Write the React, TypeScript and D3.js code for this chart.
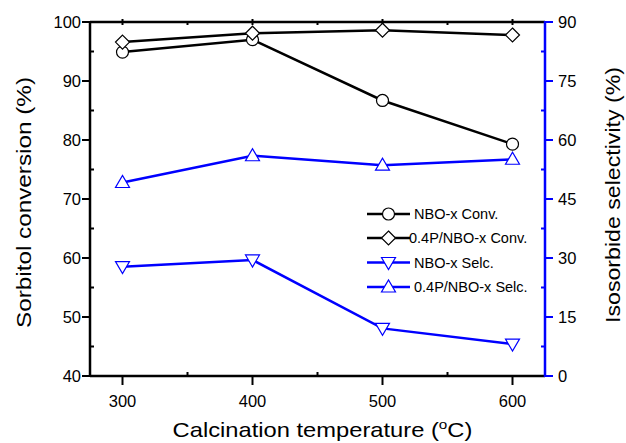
import React, { ReactElement, useEffect, useRef } from "react";
import * as d3 from "d3";

const temps = [300, 400, 500, 600];
const nboConv = [94.9, 97.0, 86.7, 79.3];
const pConv = [96.6, 98.1, 98.6, 97.8];
const nboSelc = [27.8, 29.5, 12.1, 8.1];
const pSelc = [49.2, 56.0, 53.6, 55.1];

const leftTicks = [40, 50, 60, 70, 80, 90, 100];
const rightTicks = [0, 15, 30, 45, 60, 75, 90];

const BLUE = "#0000ff";
const FONT = "Arial, 'Liberation Sans', sans-serif";

function App(): ReactElement {
  const ref = useRef<SVGSVGElement>(null);
  useEffect(() => {
    drawChart();
  });
  const drawChart = () => {
    const left = 90, right = 545, top = 22, bottom = 376;
    const svg = d3.select(ref.current);
    svg.selectAll("*").remove();

    const x = d3.scaleLinear().domain([275, 625]).range([left, right]);
    const yL = d3.scaleLinear().domain([40, 100]).range([bottom, top]);
    const yR = d3.scaleLinear().domain([0, 90]).range([bottom, top]);

    // frame: top + bottom + left black, right blue
    const axisW = 2.5;
    svg.append("line").attr("x1", left).attr("x2", right).attr("y1", top).attr("y2", top)
      .attr("stroke", "#000").attr("stroke-width", axisW);
    svg.append("line").attr("x1", left).attr("x2", right).attr("y1", bottom).attr("y2", bottom)
      .attr("stroke", "#000").attr("stroke-width", axisW);
    svg.append("line").attr("x1", left).attr("x2", left).attr("y1", top - 1).attr("y2", bottom + 1)
      .attr("stroke", "#000").attr("stroke-width", axisW);
    svg.append("line").attr("x1", right).attr("x2", right).attr("y1", top - 1).attr("y2", bottom + 1)
      .attr("stroke", BLUE).attr("stroke-width", axisW);

    // left ticks
    const lt = svg.append("g");
    leftTicks.forEach((v) => {
      lt.append("line").attr("x1", left - 8).attr("x2", left).attr("y1", yL(v)).attr("y2", yL(v))
        .attr("stroke", "#000").attr("stroke-width", 2);
      lt.append("text").attr("x", left - 9).attr("y", yL(v)).attr("dy", "0.35em")
        .attr("text-anchor", "end").attr("font-size", 16.5).attr("font-family", FONT).text(v);
    });
    d3.range(45, 100, 10).forEach((v) => {
      lt.append("line").attr("x1", left).attr("x2", left + 4).attr("y1", yL(v)).attr("y2", yL(v))
        .attr("stroke", "#000").attr("stroke-width", 2);
    });

    // right ticks
    const rt = svg.append("g");
    rightTicks.forEach((v) => {
      rt.append("line").attr("x1", right).attr("x2", right + 8).attr("y1", yR(v)).attr("y2", yR(v))
        .attr("stroke", BLUE).attr("stroke-width", 2);
      rt.append("text").attr("x", right + 13).attr("y", yR(v)).attr("dy", "0.35em")
        .attr("text-anchor", "start").attr("font-size", 16.5).attr("font-family", FONT).text(v);
    });
    d3.range(7.5, 90, 15).forEach((v) => {
      rt.append("line").attr("x1", right - 4).attr("x2", right).attr("y1", yR(v)).attr("y2", yR(v))
        .attr("stroke", BLUE).attr("stroke-width", 2);
    });

    // bottom/top ticks
    const bt = svg.append("g");
    temps.forEach((v) => {
      bt.append("line").attr("x1", x(v)).attr("x2", x(v)).attr("y1", bottom).attr("y2", bottom + 9)
        .attr("stroke", "#000").attr("stroke-width", 2);
      bt.append("line").attr("x1", x(v)).attr("x2", x(v)).attr("y1", top - 3).attr("y2", top + 3)
        .attr("stroke", "#000").attr("stroke-width", 2);
      bt.append("text").attr("x", x(v)).attr("y", bottom + 31).attr("text-anchor", "middle")
        .attr("font-size", 16.5).attr("font-family", FONT).text(v);
    });
    [350, 450, 550].forEach((v) => {
      bt.append("line").attr("x1", x(v)).attr("x2", x(v)).attr("y1", bottom - 4).attr("y2", bottom)
        .attr("stroke", "#000").attr("stroke-width", 2);
      bt.append("line").attr("x1", x(v)).attr("x2", x(v)).attr("y1", top).attr("y2", top + 3)
        .attr("stroke", "#000").attr("stroke-width", 2);
    });

    // axis titles
    svg.append("text").attr("transform", "translate(31,202.5) rotate(-90)")
      .attr("text-anchor", "middle").attr("font-size", 21).attr("font-family", FONT)
      .attr("textLength", 251).attr("lengthAdjust", "spacingAndGlyphs")
      .text("Sorbitol conversion (%)");
    svg.append("text").attr("transform", "translate(620,195) rotate(-90)")
      .attr("text-anchor", "middle").attr("font-size", 21).attr("font-family", FONT)
      .attr("textLength", 256).attr("lengthAdjust", "spacingAndGlyphs")
      .text("Isosorbide selectivity (%)");
    const xt = svg.append("text").attr("transform", "translate(322.5,437) scale(1.13,1)")
      .attr("text-anchor", "middle").attr("font-size", 21).attr("font-family", FONT);
    xt.append("tspan").text("Calcination temperature (");
    xt.append("tspan").attr("dy", -8).attr("font-size", 13.5).text("o");
    xt.append("tspan").attr("dy", 8).text("C)");

    // markers
    const drawMarker = (g: any, shape: string, cx: number, cy: number, color: string) => {
      const s = 6;
      if (shape === "circle") {
        g.append("circle").attr("cx", cx).attr("cy", cy).attr("r", s)
          .attr("fill", "#fff").attr("stroke", color).attr("stroke-width", 1.2);
      } else {
        let pts: number[][] = [];
        if (shape === "diamond") pts = [[0, -s - 1], [s + 1, 0], [0, s + 1], [-s - 1, 0]];
        if (shape === "down") pts = [[-s - 1, -s + 1], [s + 1, -s + 1], [0, s + 1]];
        if (shape === "up") pts = [[-s - 1, s - 1], [s + 1, s - 1], [0, -s - 1]];
        g.append("polygon").attr("points", pts.map((p) => `${cx + p[0]},${cy + p[1]}`).join(" "))
          .attr("fill", "#fff").attr("stroke", color).attr("stroke-width", 1.2);
      }
    };

    const series = [
      { name: "NBO-x Conv.", data: nboConv, y: yL, color: "#000", shape: "circle" },
      { name: "0.4P/NBO-x Conv.", data: pConv, y: yL, color: "#000", shape: "diamond" },
      { name: "NBO-x Selc.", data: nboSelc, y: yR, color: BLUE, shape: "down" },
      { name: "0.4P/NBO-x Selc.", data: pSelc, y: yR, color: BLUE, shape: "up" },
    ];

    series.forEach((s) => {
      const line = d3.line<number>().x((_, i) => x(temps[i])).y((d) => s.y(d));
      svg.append("path").attr("d", line(s.data)).attr("fill", "none")
        .attr("stroke", s.color).attr("stroke-width", 2.5);
      const g = svg.append("g");
      s.data.forEach((d, i) => drawMarker(g, s.shape, x(temps[i]), s.y(d), s.color));
    });

    // legend
    const legY = [214, 238, 262.5, 287];
    series.forEach((s, i) => {
      const g = svg.append("g");
      g.append("line").attr("x1", 367).attr("x2", 410).attr("y1", legY[i]).attr("y2", legY[i])
        .attr("stroke", s.color).attr("stroke-width", 2.5);
      drawMarker(g, s.shape, 388.5, legY[i], s.color);
      g.append("text").attr("x", i === 1 ? 409 : 414).attr("y", legY[i]).attr("dy", "0.35em")
        .attr("font-size", 14.5).attr("font-family", FONT).text(s.name);
    });
  };
  return (
    <div>
      <svg ref={ref} width={626} height={443} style={{ position: "absolute", left: 0, top: 0 }}></svg>
    </div>
  );
}

export default App;
